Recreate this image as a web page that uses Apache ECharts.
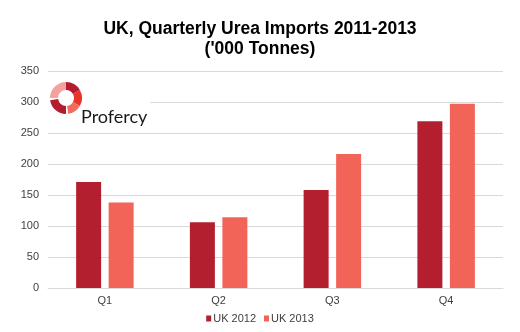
<!DOCTYPE html>
<html>
<head>
<meta charset="utf-8">
<script src="https://cdn.jsdelivr.net/npm/echarts@6/dist/echarts.min.js"></script>
<style>html,body{margin:0;padding:0;background:#fff}#c{width:520px;height:332px}</style>
</head>
<body>
<div id="c"></div>
<script>
var categories = ['Q1', 'Q2', 'Q3', 'Q4'];
var uk2012 = [171, 106, 158, 269];
var uk2013 = [138, 114, 216, 297];
var seriesNames = ['UK 2012', 'UK 2013'];
var titleLines = ['UK, Quarterly Urea Imports 2011-2013', "('000 Tonnes)"];

var chart = echarts.init(document.getElementById('c'), null, {renderer: 'canvas'});
var lcx = 66, lcy = 98, ro = 16, ri = 8;
function deg(d){ return d * Math.PI / 180; }
function seg(a0, a1, color){
  return {type:'sector', shape:{cx:lcx, cy:lcy, r:ro, r0:ri, startAngle:deg(a0), endAngle:deg(a1)}, style:{fill:color}, z:10};
}
chart.setOption({
  animation: false,
  title: {
    text: titleLines.join('\n'),
    left: 'center', top: 14,
    textStyle: {fontFamily: 'Liberation Sans, Arial', fontSize: 17.5, fontWeight: 'bold', color: '#000', lineHeight: 20}
  },
  legend: {
    top: 308, left: 'center',
    itemWidth: 5, itemHeight: 6, itemGap: 8,
    icon: 'rect',
    textStyle: {fontFamily: 'Liberation Sans, Arial', fontSize: 11, color: '#404040', padding: [0,0,0,-3]},
    data: seriesNames
  },
  grid: {left: 48, right: 17, top: 71, bottom: 44},
  xAxis: {
    type: 'category', data: categories,
    axisLine: {lineStyle: {color: '#d9d9d9'}},
    axisTick: {show: false},
    axisLabel: {fontFamily: 'Liberation Sans, Arial', fontSize: 11, color: '#404040', margin: 7}
  },
  yAxis: {
    type: 'value', min: 0, max: 350, interval: 50,
    axisLine: {show: false}, axisTick: {show: false},
    splitLine: {lineStyle: {color: '#d9d9d9'}},
    axisLabel: {fontFamily: 'Liberation Sans, Arial', fontSize: 11, color: '#404040', margin: 9}
  },
  series: [
    {name: seriesNames[0], type: 'bar', data: uk2012, barWidth: 25, barGap: '30%', itemStyle: {color: '#B41F2F'}},
    {name: seriesNames[1], type: 'bar', data: uk2013, barWidth: 25, itemStyle: {color: '#F26457'}}
  ],
  graphic: [
    {type:'rect', shape:{x:48, y:78, width:102, height:50}, style:{fill:'#fff'}, z:5},
    seg(180, 270, '#F4A29C'),
    seg(270, 330, '#B21D30'),
    seg(330, 390, '#E8352A'),
    seg(30, 82, '#F26B5F'),
    seg(90, 172, '#B21D30'),
    {type:'text', x:81, y:117, style:{text:'Profercy', font:'18px Lato, "Liberation Sans"', fill:'#1a1a1a', verticalAlign:'middle'}, z:10}
  ]
});
</script>
</body>
</html>
